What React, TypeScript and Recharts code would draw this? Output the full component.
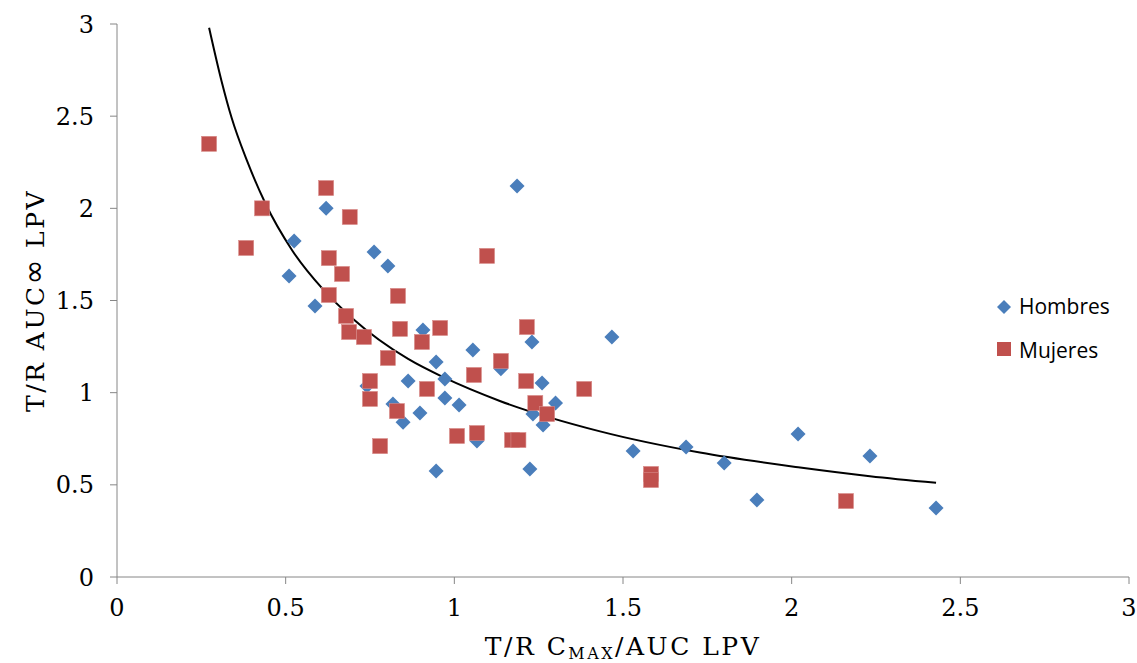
import { ComposedChart, Scatter, Line, XAxis, YAxis, Legend, Label } from 'recharts'

// values
const hombresX = [0.51, 0.525, 0.587, 0.62, 0.741, 0.762, 0.803, 0.818, 0.848, 0.863, 0.898, 0.907, 0.946, 0.946, 0.972, 0.972, 1.014, 1.055, 1.067, 1.138, 1.186, 1.224, 1.23, 1.233, 1.26, 1.263, 1.3, 1.467, 1.53, 1.687, 1.8, 1.897, 2.019, 2.232, 2.428]
const hombresY = [1.633, 1.823, 1.47, 2.0, 1.036, 1.763, 1.687, 0.939, 0.84, 1.063, 0.89, 1.34, 1.167, 0.575, 1.074, 0.971, 0.933, 1.232, 0.738, 1.13, 2.121, 0.586, 1.275, 0.884, 1.053, 0.825, 0.944, 1.302, 0.684, 0.705, 0.619, 0.418, 0.776, 0.657, 0.374]

const mujeresX = [0.273, 0.383, 0.43, 0.62, 0.628, 0.667, 0.69, 0.628, 0.679, 0.688, 0.732, 0.833, 0.839, 0.803, 0.75, 0.75, 0.83, 0.78, 0.958, 0.904, 0.919, 1.097, 1.058, 1.008, 1.067, 1.138, 1.215, 1.213, 1.24, 1.275, 1.171, 1.19, 1.385, 1.583, 1.583, 2.161]
const mujeresY = [2.35, 1.785, 2.0, 2.11, 1.73, 1.644, 1.953, 1.53, 1.416, 1.329, 1.302, 1.525, 1.346, 1.188, 1.063, 0.966, 0.9, 0.71, 1.351, 1.275, 1.02, 1.742, 1.096, 0.765, 0.781, 1.172, 1.356, 1.063, 0.944, 0.884, 0.743, 0.743, 1.02, 0.559, 0.526, 0.412]

// points read along the black trendline (power type in excel)
const trendX = [0.273, 0.31, 0.34, 0.385, 0.439, 0.52, 0.611, 0.7, 0.863, 0.972, 1.135, 1.432, 1.728, 2.025, 2.232, 2.428]
const trendY = [2.98, 2.69, 2.49, 2.26, 2.03, 1.77, 1.56, 1.4, 1.183, 1.08, 0.955, 0.79, 0.675, 0.594, 0.547, 0.511]

const seriesNames = ['Hombres', 'Mujeres']
const axisTicks = [0, 0.5, 1, 1.5, 2, 2.5, 3]

const BLUE = '#4a7ebb'
const RED = '#c0504d'
const AXIS = '#868686'
const SERIF = '"DejaVu Serif", serif'
const SANS = '"Open Sans", sans-serif'

const hombres = hombresX.map((x, i) => ({ x, y: hombresY[i] }))
const mujeres = mujeresX.map((x, i) => ({ x, y: mujeresY[i] }))
const trend = trendX.map((x, i) => ({ x, y: trendY[i] }))

const Diamond = ({ cx, cy }: any) => (
  <path d={`M${cx},${cy - 7.5}L${cx + 7.5},${cy}L${cx},${cy + 7.5}L${cx - 7.5},${cy}Z`} fill={BLUE} />
)
const Square = ({ cx, cy }: any) => (
  <rect x={cx - 7.5} y={cy - 7.5} width={15} height={15} fill={RED} stroke="#d88a88" strokeWidth={0.6} />
)

const LegendBox = () => (
  <svg width={150} height={80}>
    <path d="M11,7L18,14L11,21L4,14Z" fill={BLUE} />
    <text x={26} y={21} fontFamily={SANS} fontSize={21} fill="#000">
      {seriesNames[0]}
    </text>
    <rect x={4} y={49} width={14} height={14} fill={RED} />
    <text x={26} y={65} fontFamily={SANS} fontSize={21} fill="#000">
      {seriesNames[1]}
    </text>
  </svg>
)

const XTitle = ({ viewBox }: any) => {
  const cx = viewBox.x + viewBox.width / 2
  return (
    <text x={cx} y={viewBox.y + 78} textAnchor="middle" fontFamily={SERIF} fontSize={25} letterSpacing={2.5} fill="#000">
      T/R C
      <tspan fontSize={16} dy={4}>MAX</tspan>
      <tspan dy={-4}>/AUC LPV</tspan>
    </text>
  )
}

const YTitle = ({ viewBox }: any) => {
  const cy = viewBox.y + viewBox.height / 2
  const x = 44
  return (
    <text x={x} y={cy} textAnchor="middle" transform={`rotate(-90 ${x} ${cy})`} fontFamily={SERIF} fontSize={25} letterSpacing={2.5} fill="#000">
      T/R AUC<tspan fontFamily='"DejaVu Sans", sans-serif' fontSize={30} letterSpacing={1}>∞</tspan> LPV
    </text>
  )
}

export default function App() {
  return (
    <>
      <style>{'html,body{margin:0;overflow:hidden;}'}</style>
      <ComposedChart width={1137} height={663} margin={{ top: 24, right: 8, bottom: 0, left: 0 }}>
        <XAxis
          type="number"
          dataKey="x"
          domain={[0, 3]}
          ticks={axisTicks}
          interval={0}
          height={86}
          stroke={AXIS}
          tickSize={7}
          tickMargin={15}
          tick={{ fill: '#000', fontFamily: SERIF, fontSize: 24 }}
          allowDataOverflow
        >
          <Label content={<XTitle />} />
        </XAxis>
        <YAxis
          type="number"
          dataKey="y"
          domain={[0, 3]}
          ticks={axisTicks}
          interval={0}
          width={117}
          stroke={AXIS}
          tickSize={7}
          tickMargin={16}
          tick={{ fill: '#000', fontFamily: SERIF, fontSize: 24 }}
          allowDataOverflow
        >
          <Label content={<YTitle />} />
        </YAxis>
        <Legend
          layout="vertical"
          align="center"
          verticalAlign="middle"
          content={<LegendBox />}
          wrapperStyle={{ left: 993, top: 293, width: 150, height: 80 }}
        />
        <Scatter name={seriesNames[0]} data={hombres} dataKey="y" shape={<Diamond />} isAnimationActive={false} />
        <Scatter name={seriesNames[1]} data={mujeres} dataKey="y" shape={<Square />} isAnimationActive={false} />
        <Line
          name="trend"
          data={trend}
          dataKey="y"
          type="monotone"
          stroke="#000"
          strokeWidth={2}
          dot={false}
          activeDot={false}
          legendType="none"
          isAnimationActive={false}
        />
      </ComposedChart>
    </>
  )
}
